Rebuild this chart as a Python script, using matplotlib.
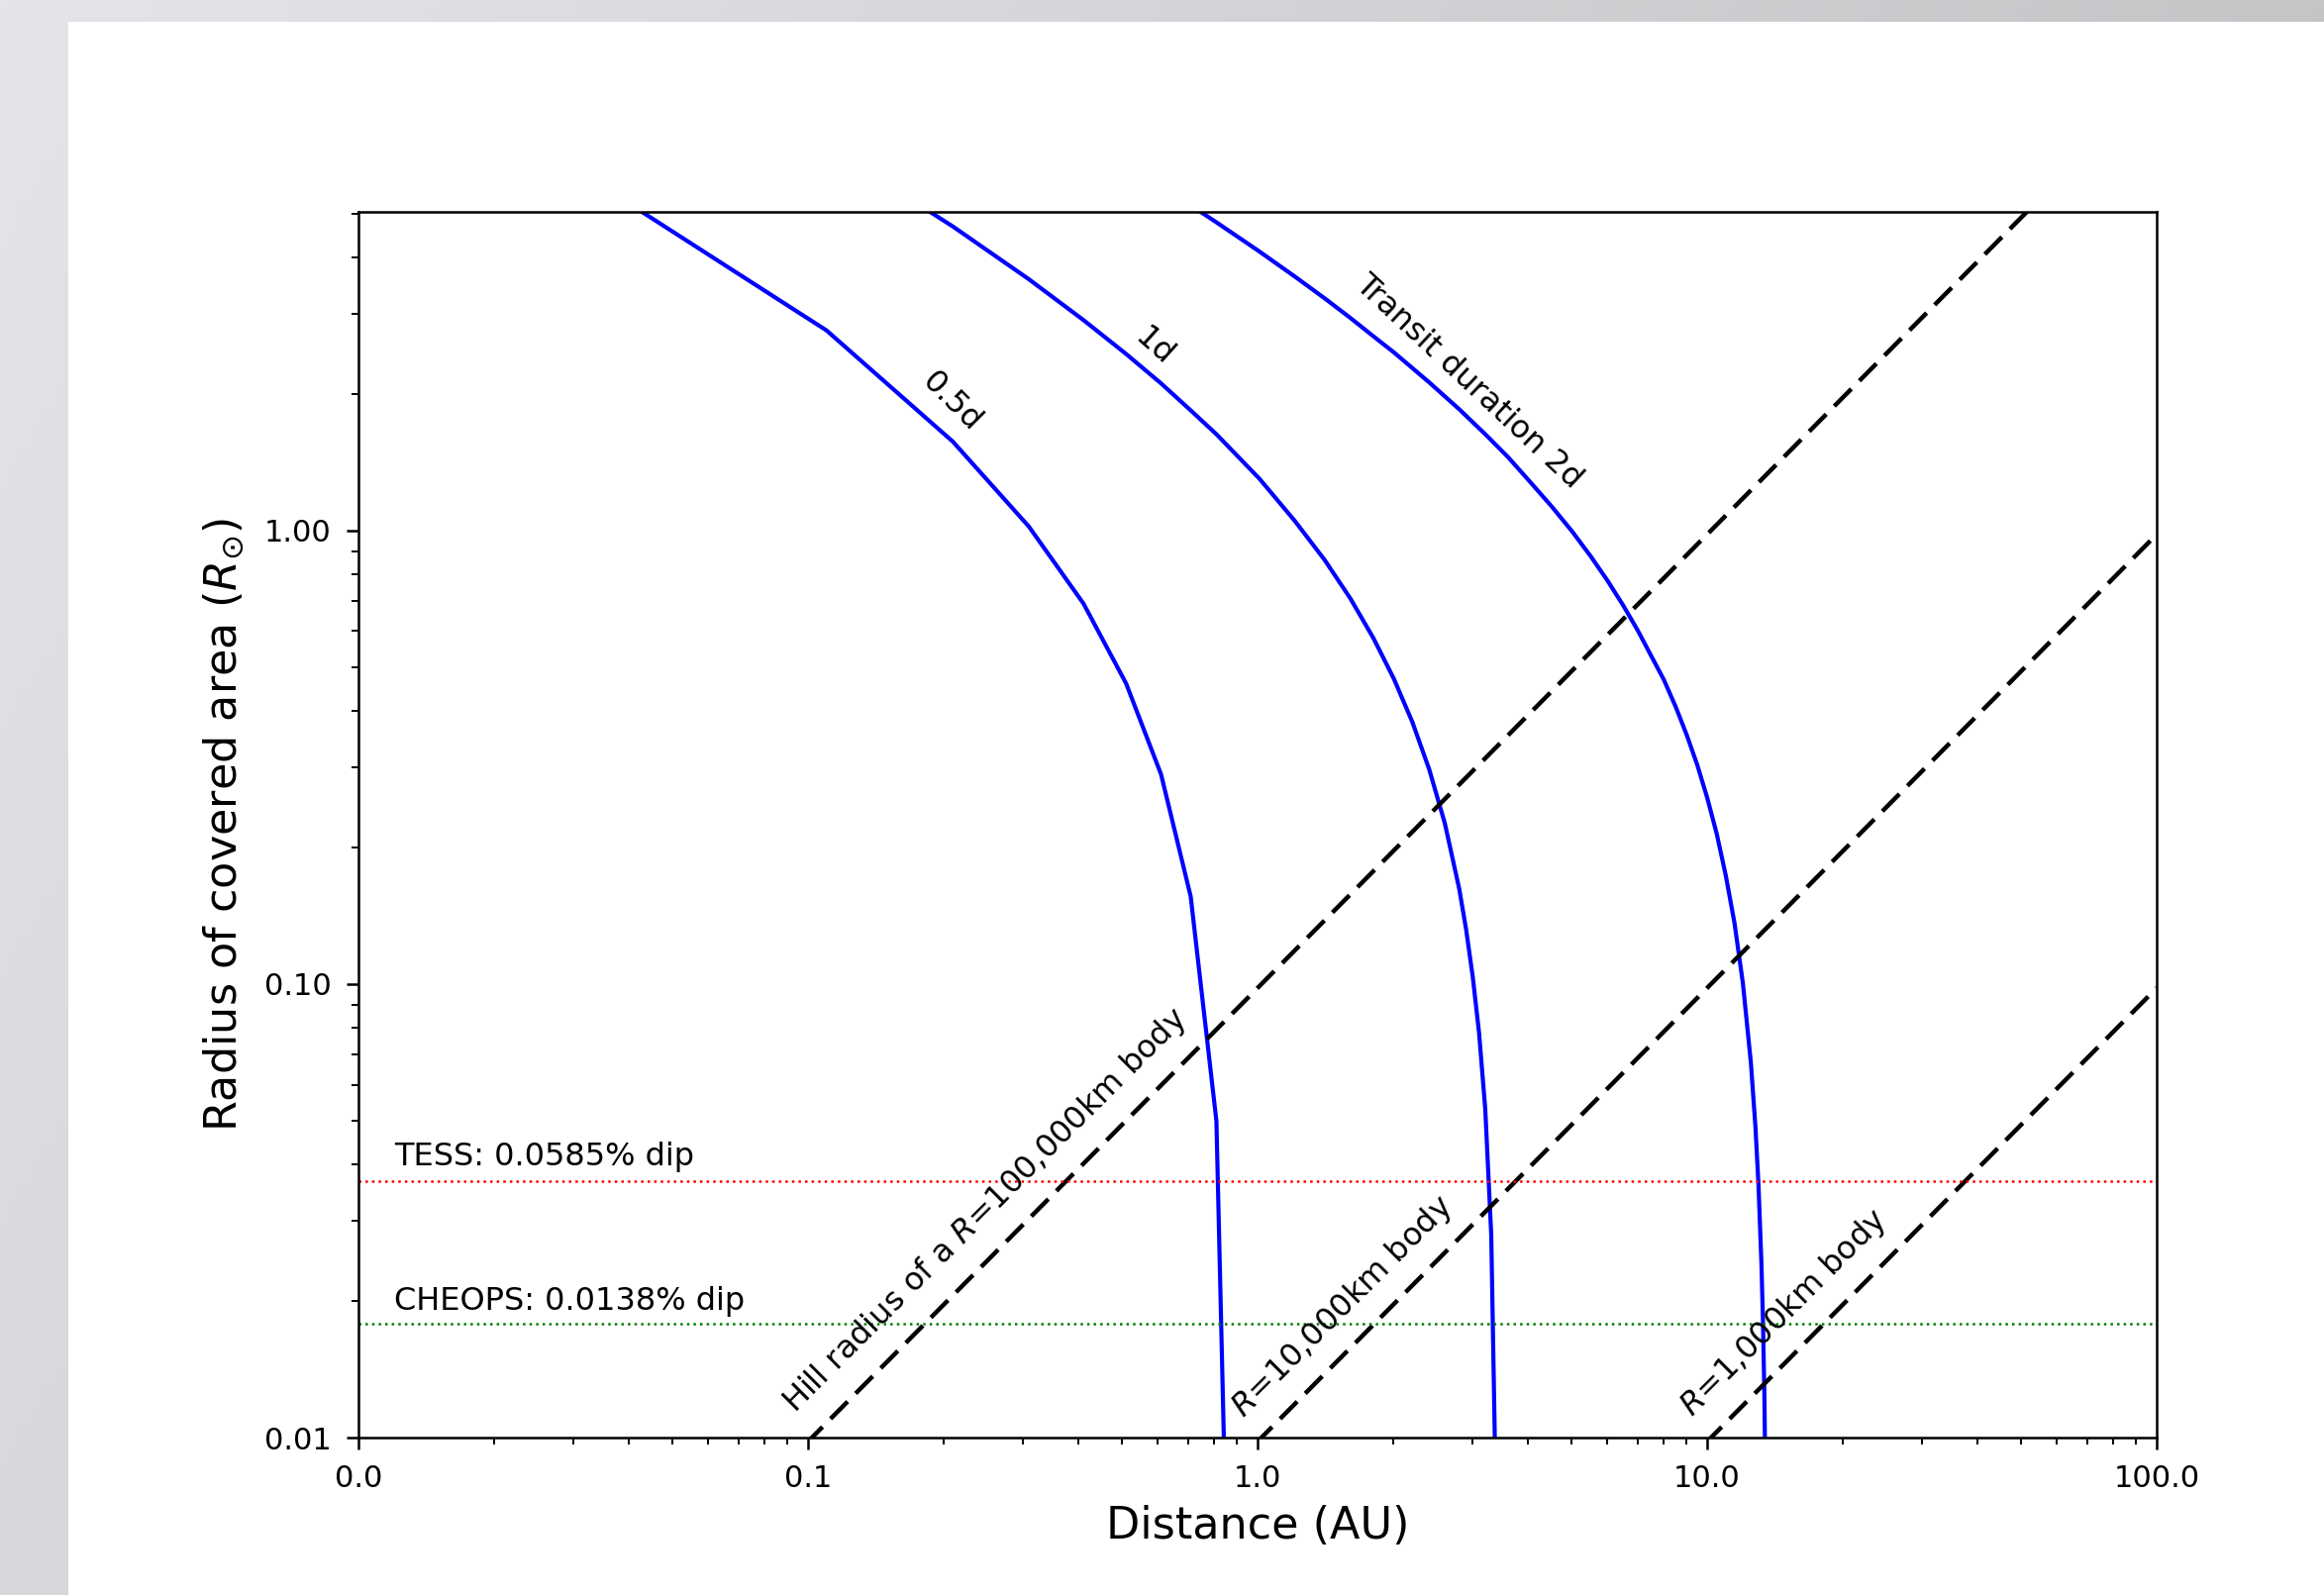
# -*- coding: utf-8 -*-
"""
Transit duration curves vs Hill radii, with TESS / CHEOPS detection limits
"""

import numpy as np
import matplotlib
matplotlib.use("Agg")
import matplotlib.pyplot as plt
from matplotlib.ticker import FormatStrFormatter, LogLocator, NullFormatter
from matplotlib.patches import Rectangle

# distance (AU) and radius of covered area (R_sun) along each transit duration curve
dist_05d = [0.01, 0.11, 0.21, 0.31, 0.41, 0.51, 0.61, 0.71, 0.81, 0.85]
rad_05d = [12.70, 2.76, 1.57, 1.02, 0.69, 0.46, 0.29, 0.156, 0.0499, 0.0065]

dist_1d = [0.01, 0.11, 0.21, 0.31, 0.41, 0.51, 0.61, 0.71, 0.81, 1.01, 1.21, 1.41,
           1.61, 1.81, 2.01, 2.21, 2.41, 2.61, 2.81, 2.91, 3.01, 3.11, 3.21, 3.31, 3.41]
rad_1d = [26.92, 7.05, 4.68, 3.58, 2.91, 2.45, 2.11, 1.84, 1.63, 1.30, 1.05, 0.861,
          0.707, 0.579, 0.471, 0.378, 0.297, 0.226, 0.162, 0.132, 0.104, 0.078, 0.053,
          0.028, 0.0052]

dist_2d = [0.01, 0.11, 0.21, 0.31, 0.41, 0.51, 0.61, 0.71, 0.81, 0.91, 1.01, 1.21,
           1.41, 1.61, 1.81, 2.01, 2.41, 2.81, 3.21, 3.61, 4.01, 4.51, 5.01, 5.51,
           6.01, 6.51, 7.01, 7.51, 8.01, 8.51, 9.01, 9.51, 10.01, 10.51, 11.01, 11.51,
           12.01, 12.51, 12.81, 13.01, 13.21, 13.31, 13.41, 13.51]
rad_2d = [55.37, 15.61, 10.87, 8.68, 7.34, 6.42, 5.74, 5.21, 4.78, 4.42, 4.12, 3.63,
          3.25, 2.94, 2.68, 2.47, 2.12, 1.85, 1.63, 1.45, 1.29, 1.13, 0.995, 0.877,
          0.774, 0.683, 0.602, 0.529, 0.469, 0.409, 0.354, 0.304, 0.257, 0.214, 0.173,
          0.136, 0.1005, 0.0673, 0.0484, 0.0361, 0.0241, 0.0182, 0.0124, 0.0066]

# Hill radius (R_sun) of bodies of different size
hill_dist = [0.01, 100.0]
hill_100000km = [0.00098, 9.8]
hill_10000km = [0.000098, 0.98]
hill_1000km = [0.0000098, 0.098]

# radius giving the photometric limit of each mission
tess_radius = 0.0368
cheops_radius = 0.0178
tess_label = "TESS: 0.0585% dip"
cheops_label = "CHEOPS: 0.0138% dip"

x_ticks = [0.01, 0.1, 1.0, 10.0, 100.0]
y_ticks = [0.01, 0.1, 1.0]


def background(fig):
    """grey slide frame around a white page"""
    bg = fig.add_axes([0, 0, 1, 1], zorder=-10)
    tl = np.array([228, 229, 233]) / 255.0
    tr = np.array([197, 197, 200]) / 255.0
    bl = np.array([215, 216, 219]) / 255.0
    u = np.linspace(0, 1, 200)[None, :, None]
    v = np.linspace(0, 1, 200)[:, None, None]
    img = tl + (tr - tl) * u + (bl - tl) * v
    bg.imshow(np.clip(img, 0, 1), aspect="auto", extent=[0, 1, 0, 1], origin="upper")
    bg.add_patch(Rectangle((69 / 2347.0, 0), 1, 1 - 22 / 1611.0,
                           facecolor="white", edgecolor="none"))
    bg.set_xlim(0, 1)
    bg.set_ylim(0, 1)
    bg.axis("off")


def viewer():
    fig = plt.figure(figsize=(23.47, 16.11), dpi=100)
    background(fig)
    ax = fig.add_axes([362 / 2347.0, 1 - 1452 / 1611.0,
                       1816 / 2347.0, 1238 / 1611.0])
    ax.set_facecolor("white")

    lw = 3.0
    ax.plot(dist_05d, rad_05d, "b-", lw=lw)
    ax.plot(dist_1d, rad_1d, "b-", lw=lw)
    ax.plot(dist_2d, rad_2d, "b-", lw=lw)

    for r in (hill_100000km, hill_10000km, hill_1000km):
        ax.plot(hill_dist, r, "k--", lw=3.2, dashes=(5.5, 2.6))

    ax.plot(hill_dist, [tess_radius] * 2, "r:", lw=1.8)
    ax.plot(hill_dist, [cheops_radius] * 2, "g:", lw=1.8)

    fs = 23
    ax.text(0.012, 0.0399, tess_label, fontsize=fs)
    ax.text(0.012, 0.0191, cheops_label, fontsize=fs)

    ax.text(0.249, 0.0316, "Hill radius of a $R$=100,000km body", fontsize=fs,
            rotation=45, rotation_mode="anchor", ha="center", va="center")
    ax.text(1.545, 0.0194, "$R$=10,000km body", fontsize=fs,
            rotation=45, rotation_mode="anchor", ha="center", va="center")
    ax.text(14.84, 0.0188, "$R$=1,000km body", fontsize=fs,
            rotation=45, rotation_mode="anchor", ha="center", va="center")

    ax.text(0.209, 1.914, "0.5d", fontsize=fs, rotation=-45,
            rotation_mode="anchor", ha="center", va="center")
    ax.text(0.5865, 2.545, "1d", fontsize=fs, rotation=-42,
            rotation_mode="anchor", ha="center", va="center")
    ax.text(2.95, 2.13, "Transit duration 2d", fontsize=fs, rotation=-43,
            rotation_mode="anchor", ha="center", va="center")

    ax.set_xscale("log")
    ax.set_yscale("log")
    ax.set_xlim(0.01, 100)
    ax.set_ylim(0.01, 5.04)
    ax.set_xticks(x_ticks)
    ax.set_yticks(y_ticks)
    ax.xaxis.set_minor_locator(LogLocator(base=10, subs=np.arange(2, 10)))
    ax.yaxis.set_minor_locator(LogLocator(base=10, subs=np.arange(2, 10)))
    ax.xaxis.set_minor_formatter(NullFormatter())
    ax.yaxis.set_minor_formatter(NullFormatter())
    ax.xaxis.set_major_formatter(FormatStrFormatter("%.1f"))
    ax.yaxis.set_major_formatter(FormatStrFormatter("%.2f"))
    ax.tick_params(which="major", length=8.5, width=1.8, labelsize=22, pad=11)
    ax.tick_params(which="minor", length=5, width=1.4)
    for s in ax.spines.values():
        s.set_linewidth(1.8)

    ax.set_xlabel("Distance (AU)", fontsize=32)
    ax.set_ylabel(r"Radius of covered area ($R_{\odot}$)", fontsize=32)
    ax.xaxis.set_label_coords(0.5, -0.055)
    ax.yaxis.set_label_coords(-0.0625, 0.5)

    fig.savefig("out.png", dpi=100)


if __name__ == "__main__":
    viewer()
